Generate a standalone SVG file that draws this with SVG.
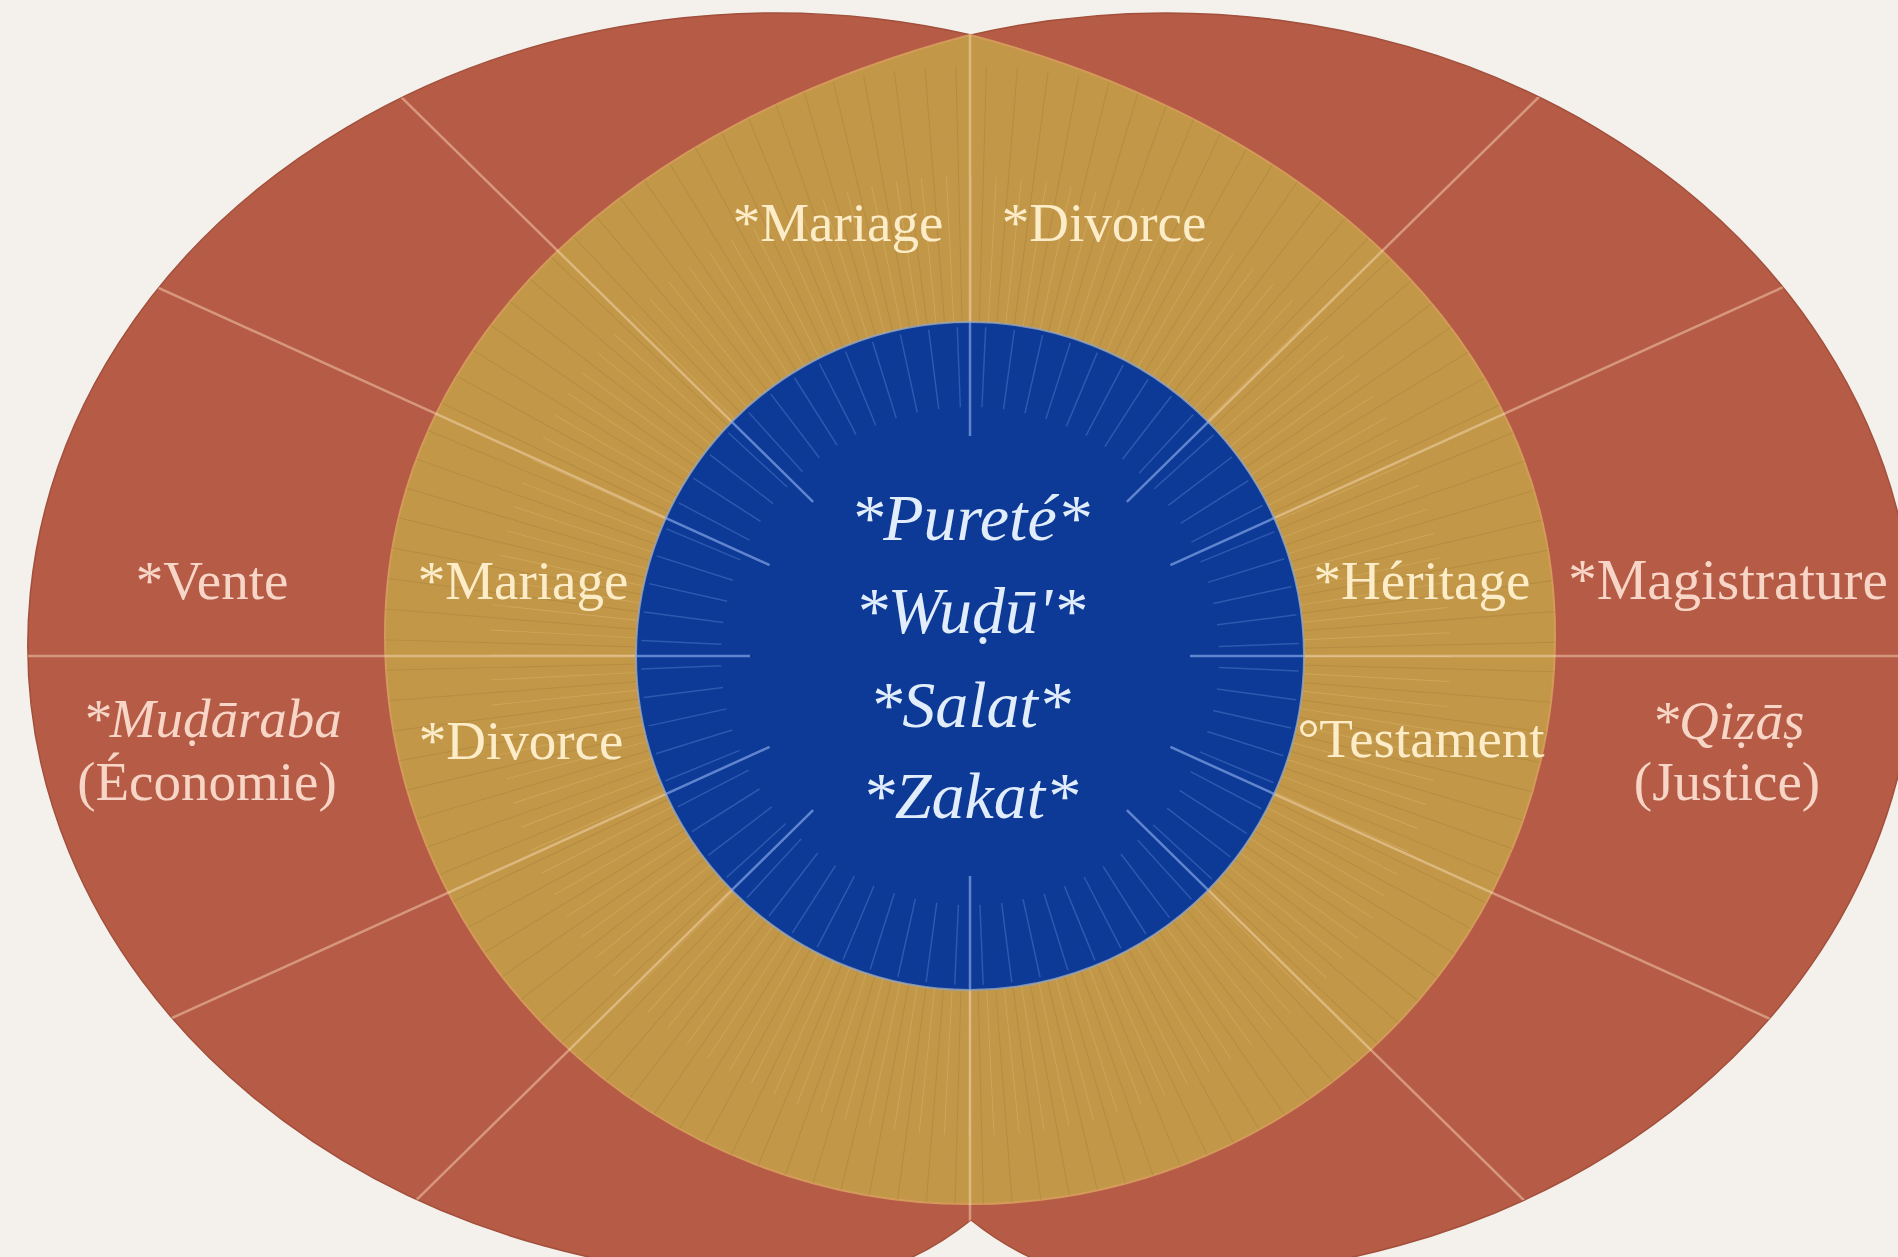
<svg xmlns="http://www.w3.org/2000/svg" xmlns:xlink="http://www.w3.org/1999/xlink" width="1898" height="1257" viewBox="0 0 1898 1257">
<style>
.lbl{font-family:"Liberation Serif","DejaVu Serif",serif;font-size:55px;text-anchor:middle}
.red{fill:#f7d6c7}
.gold{fill:#fcecc8}
.it{font-style:italic}
.core{font-family:"Liberation Serif","DejaVu Serif",serif;font-style:italic;font-size:66px;fill:#e2edfc;text-anchor:middle}
.major{stroke:#ffe0c0;stroke-opacity:0.45;stroke-width:2.5;fill:none}
.majorBlue{stroke:#9ab8f4;stroke-opacity:0.6;stroke-width:2.5;fill:none}
</style>
<defs>
<path id="outline" d="M 971,34.9 A 748 632 0 1 0 850,1273.9 Q 910,1268.9 971,1220 Q 1032,1268.9 1092,1273.9 A 748 632 0 1 0 971,34.9 Z"/>
<path id="goldShape" d="M 970,35 C 640,121 385,335 385,635 A 585 569 0 0 0 1555,635 C 1555,335 1300,121 970,35 Z"/>
<clipPath id="clipRed"><use xlink:href="#outline"/></clipPath>
<clipPath id="clipGold"><use xlink:href="#goldShape"/></clipPath>
<clipPath id="clipBlue"><circle cx="970" cy="656" r="334"/></clipPath>
<g id="majorSet">
<line x1="769.6" y1="565.1" x2="59.3" y2="242.9"/>
<line x1="813.1" y1="501.8" x2="256.7" y2="-44.9"/>
<line x1="1170.4" y1="565.1" x2="1880.7" y2="242.9"/>
<line x1="1126.9" y1="501.8" x2="1683.3" y2="-44.9"/>
<line x1="769.6" y1="746.9" x2="59.3" y2="1069.1"/>
<line x1="813.1" y1="810.2" x2="256.7" y2="1356.9"/>
<line x1="1170.4" y1="746.9" x2="1880.7" y2="1069.1"/>
<line x1="1126.9" y1="810.2" x2="1683.3" y2="1356.9"/>
<line x1="750" y1="656" x2="-30" y2="656"/>
<line x1="1190" y1="656" x2="1930" y2="656"/>
<line x1="970" y1="436" x2="970" y2="-345"/>
<line x1="970" y1="876" x2="970" y2="1655"/>
</g>
</defs>
<rect x="0" y="0" width="1898" height="1257" fill="#f4f1ec"/>
<g id="outer-ring">
<use xlink:href="#outline" fill="#b65c46" stroke="#a24f3c" stroke-width="1.5"/>
</g>
<g id="middle-ring">
<use xlink:href="#goldShape" fill="#c29748" stroke="#d49a5a" stroke-width="2"/>
<g clip-path="url(#clipGold)">
<circle cx="970" cy="656" r="460" fill="none" stroke="#9c7534" stroke-opacity="0.32" stroke-width="260" stroke-dasharray="1 23.086" stroke-dashoffset="12.04"/>
<circle cx="970" cy="656" r="405" fill="none" stroke="#e5c27e" stroke-opacity="0.35" stroke-width="150" stroke-dasharray="0.9 20.306"/>
</g>
</g>
<g id="connectors">
<g clip-path="url(#clipRed)"><use xlink:href="#majorSet" class="major"/></g>
</g>
<g id="core">
<circle cx="970" cy="656" r="334" fill="#0c3a96" stroke="#9aa6b8" stroke-width="2" stroke-opacity="0.8"/>
<circle cx="970" cy="656" r="289" fill="none" stroke="#4f78cc" stroke-opacity="0.5" stroke-width="80" stroke-dasharray="1.5 23.72" stroke-dashoffset="12.6"/>
<g clip-path="url(#clipBlue)"><use xlink:href="#majorSet" class="majorBlue"/></g>
</g>
<g id="label-vente"><text class="lbl red" x="212" y="599">*Vente</text></g>
<g id="label-mudaraba"><text class="lbl red it" x="212" y="737">*Muḍāraba</text><text class="lbl red" x="207" y="800">(Économie)</text></g>
<g id="label-mariage-left"><text class="lbl gold" x="523" y="599">*Mariage</text></g>
<g id="label-divorce-left"><text class="lbl gold" x="521" y="759">*Divorce</text></g>
<g id="label-mariage-top"><text class="lbl gold" x="838" y="241">*Mariage</text></g>
<g id="label-divorce-top"><text class="lbl gold" x="1104" y="241">*Divorce</text></g>
<g id="label-heritage"><text class="lbl gold" x="1422" y="599">*Héritage</text></g>
<g id="label-testament"><text class="lbl gold" x="1421" y="757">°Testament</text></g>
<g id="label-magistrature"><text class="lbl red" x="1728" y="599" style="font-size:57px">*Magistrature</text></g>
<g id="label-qisas"><text class="lbl red it" x="1728" y="739">*Qiẓāṣ</text><text class="lbl red" x="1727" y="800">(Justice)</text></g>
<g id="label-core">
<text class="core" x="970" y="540">*Pureté*</text>
<text class="core" x="970" y="633">*Wuḍū'*</text>
<text class="core" x="970" y="727">*Salat*</text>
<text class="core" x="970" y="818">*Zakat*</text>
</g>
</svg>
